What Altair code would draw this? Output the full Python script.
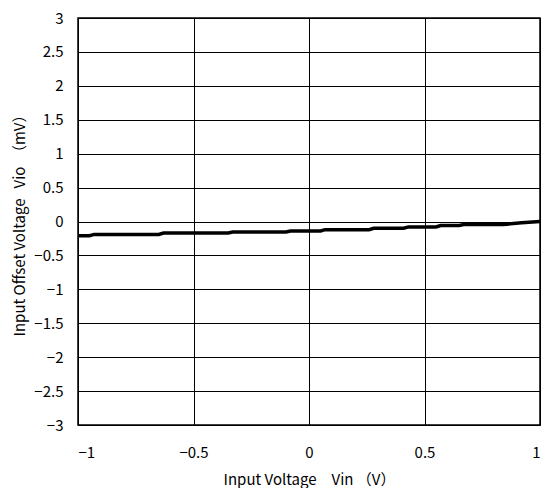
import altair as alt
import pandas as pd

vin = [-1.0, -0.95, -0.93, -0.65, -0.63, -0.35, -0.33, -0.1, -0.08, 0.05, 0.07,
       0.26, 0.28, 0.41, 0.43, 0.55, 0.57, 0.65, 0.67, 0.84, 0.92, 1.0]
vio = [-0.21, -0.21, -0.19, -0.19, -0.17, -0.17, -0.155, -0.155, -0.14, -0.14, -0.12,
       -0.12, -0.10, -0.10, -0.08, -0.08, -0.06, -0.06, -0.045, -0.045, -0.02, 0.0]

x_ticks = [-1, -0.5, 0, 0.5, 1]
y_ticks = [-3, -2.5, -2, -1.5, -1, -0.5, 0, 0.5, 1, 1.5, 2, 2.5, 3]

df = pd.DataFrame({"vin": vin, "vio": vio})

FONT = "Noto Sans CJK JP"

chart = alt.Chart(df).mark_line(color="black", strokeWidth=3.5).encode(
    x=alt.X("vin:Q", scale=alt.Scale(domain=[-1, 1], nice=False),
            axis=alt.Axis(values=x_ticks, title="Input Voltage\u3000Vin\u00a0（V）",
                          ticks=False, labelPadding=20, titlePadding=12,
                          format="~g", domain=False)),
    y=alt.Y("vio:Q", scale=alt.Scale(domain=[-3, 3], nice=False),
            axis=alt.Axis(values=y_ticks,
                          title="Input Offset Voltage\u00a0\u00a0\u00a0Vio\u00a0\u00a0（mV）",
                          ticks=False, labelPadding=15, titlePadding=6,
                          format="~g", domain=False)),
).properties(
    width=462, height=407,
    autosize=alt.AutoSizeParams(type="none"),
    padding={"left": 70, "top": 10, "right": 4, "bottom": 63},
).configure_axis(
    gridColor="black", gridOpacity=1, gridWidth=1,
    labelFont=FONT, titleFont=FONT, labelFontSize=15, titleFontSize=15,
    labelColor="black", titleColor="black", titleFontWeight="normal",
).configure_view(stroke="black", strokeWidth=1.5)

chart.save("out.html", embed_options={"renderer": "svg", "actions": False})
